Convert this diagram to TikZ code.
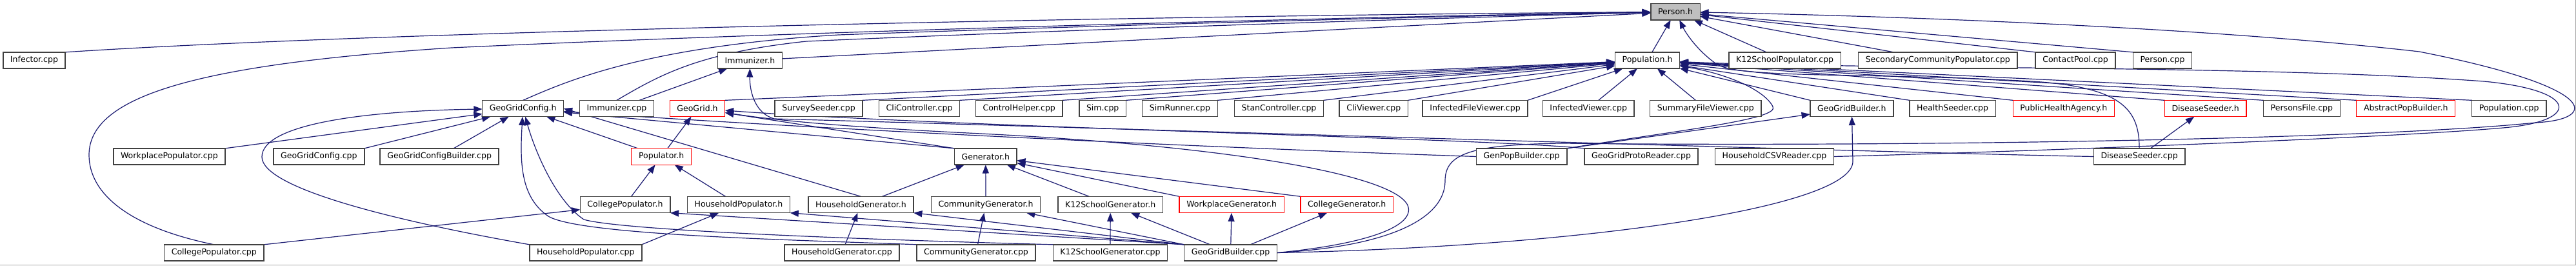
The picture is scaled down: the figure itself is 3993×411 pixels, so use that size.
\documentclass[tikz,border=0pt]{standalone}
\usepackage{fontspec}
\setmainfont{DejaVu Sans}
\usepackage{xcolor}
\usetikzlibrary{arrows.meta}
\definecolor{edgeblue}{HTML}{191970}
\definecolor{boxgray}{HTML}{404040}
\pgfdeclarelayer{edges}
\pgfsetlayers{edges,main}

\begin{document}
\begin{tikzpicture}[
    x=0.75pt, y=-0.75pt,
    file/.style={draw=boxgray, line width=1.1pt, rectangle, fill=white, minimum height=19pt, inner xsep=8.4pt, inner ysep=0pt, outer sep=0pt, font=\fontsize{9.4}{11}\selectfont},
    redfile/.style={file, draw=red, line width=0.9pt},
    focus/.style={file, fill=black!25},
    dep/.style={draw=edgeblue, line width=0.9pt, -{Triangle[length=10pt,width=7.5pt]}}
]
\useasboundingbox (0,0) rectangle (3993,411);
\draw[black!35, line width=0.75pt] (0,410.5) -- (3992,410.5) -- (3992,0);

\node[focus] (person) at (2597,18.3) {Person.h};

\node[file] (infector) at (53,93.5) {Infector.cpp};
\node[file] (immunizerh) at (1162.5,93.5) {Immunizer.h};
\node[file] (population) at (2553.5,93.5) {Population.h};
\node[file] (k12pop) at (2766.6,93.5) {K12SchoolPopulator.cpp};
\node[file] (seccompop) at (3003.8,93.5) {SecondaryCommunityPopulator.cpp};
\node[file] (contactpool) at (3217,93.5) {ContactPool.cpp};
\node[file] (personcpp) at (3352,93.5) {Person.cpp};

\node[file] (ggconfigh) at (810.7,168) {GeoGridConfig.h};
\node[file] (immunizercpp) at (955.9,168) {Immunizer.cpp};
\node[redfile] (geogridh) at (1081,168) {GeoGrid.h};
\node[file] (surveyseeder) at (1269,168) {SurveySeeder.cpp};
\node[file] (clicontroller) at (1425,168) {CliController.cpp};
\node[file] (controlhelper) at (1579.7,168) {ControlHelper.cpp};
\node[file] (simcpp) at (1709.2,168) {Sim.cpp};
\node[file] (simrunner) at (1829,168) {SimRunner.cpp};
\node[file] (stancontroller) at (1982.5,168) {StanController.cpp};
\node[file] (cliviewer) at (2129.3,168) {CliViewer.cpp};
\node[file] (infectedfileviewer) at (2286.5,168) {InfectedFileViewer.cpp};
\node[file] (infectedviewer) at (2462.2,168) {InfectedViewer.cpp};
\node[file] (summaryviewer) at (2643.8,168) {SummaryFileViewer.cpp};
\node[file] (ggbuilderh) at (2870.3,168) {GeoGridBuilder.h};
\node[file] (healthseeder) at (3026.6,168) {HealthSeeder.cpp};
\node[redfile] (publichealth) at (3198.8,168) {PublicHealthAgency.h};
\node[redfile] (diseaseseederh) at (3418.6,168) {DiseaseSeeder.h};
\node[file] (personsfile) at (3567.9,168) {PersonsFile.cpp};
\node[redfile] (abstractpop) at (3729.2,168) {AbstractPopBuilder.h};
\node[file] (populationcpp) at (3889.2,168) {Population.cpp};

\node[file] (workplacepop) at (262.4,242.5) {WorkplacePopulator.cpp};
\node[file] (ggconfigcpp) at (494.4,242.5) {GeoGridConfig.cpp};
\node[file] (ggconfigbuilder) at (681.2,242.5) {GeoGridConfigBuilder.cpp};
\node[redfile] (populatorh) at (1025.2,242.5) {Populator.h};
\node[file] (generatorh) at (1527.8,242.5) {Generator.h};
\node[file] (genpopbuilder) at (2358.6,242.5) {GenPopBuilder.cpp};
\node[file] (ggprotoreader) at (2544,242.5) {GeoGridProtoReader.cpp};
\node[file] (hhcsvreader) at (2750.5,242.5) {HouseholdCSVReader.cpp};
\node[file] (diseaseseedercpp) at (3316.1,242.5) {DiseaseSeeder.cpp};

\node[file] (collegepoph) at (969,317) {CollegePopulator.h};
\node[file] (hhpoph) at (1145,317) {HouseholdPopulator.h};
\node[file] (hhgenh) at (1334.5,317) {HouseholdGenerator.h};
\node[file] (commgenh) at (1528,317) {CommunityGenerator.h};
\node[file] (k12genh) at (1721.2,317) {K12SchoolGenerator.h};
\node[redfile] (workplacegenh) at (1909.2,317) {WorkplaceGenerator.h};
\node[redfile] (collegegenh) at (2087.8,317) {CollegeGenerator.h};

\node[file] (collegepopcpp) at (331.8,391.5) {CollegePopulator.cpp};
\node[file] (hhpopcpp) at (907.8,391.5) {HouseholdPopulator.cpp};
\node[file] (hhgencpp) at (1305,391.5) {HouseholdGenerator.cpp};
\node[file] (commgencpp) at (1513,391.5) {CommunityGenerator.cpp};
\node[file] (k12gencpp) at (1721,391.5) {K12SchoolGenerator.cpp};
\node[file] (ggbuildercpp) at (1907.5,391.5) {GeoGridBuilder.cpp};

\begin{pgfonlayer}{edges}
\draw[dep] (infector.north east) .. controls (600,48) and (1800,24) .. (person);
\draw[dep] (collegepopcpp.north) .. controls (200,352) and (138,300) .. (138,240) .. controls (138,150) and (300,100) .. (700,74) .. controls (1300,46) and (2200,24) .. (person);
\draw[dep] (ggconfigh.north) .. controls (880,125) and (1000,72) .. (1300,54) .. controls (1800,36) and (2300,24) .. (person);
\draw[dep] (immunizercpp.north) .. controls (1020,118) and (1080,82) .. (1250,64) .. controls (1700,44) and (2300,26) .. (person);
\draw[dep] (immunizerh) -- (person);
\draw[dep] (population) -- (person);
\draw[dep] (k12pop) -- (person);
\draw[dep] (seccompop) -- (person);
\draw[dep] (contactpool.north west) -- (person);
\draw[dep] (personcpp.north west) -- (person);
\draw[dep] (diseaseseedercpp.north) .. controls (3316,170) and (3290,135) .. (3150,126) .. controls (2900,112) and (2700,122) .. (2662,100) .. controls (2635,82) and (2615,55) .. (person);
\draw[dep] (ggbuildercpp.east) .. controls (2150,382) and (2240,340) .. (2240,280) .. controls (2240,238) and (2280,224) .. (2420,222) .. controls (3000,228) and (3700,214) .. (3930,190) .. controls (4030,185) and (4030,135) .. (3750,80) .. controls (3400,40) and (2900,24) .. (person);

\draw[dep] (geogridh.north east) -- (population);
\draw[dep] (surveyseeder.north east) -- (population);
\draw[dep] (clicontroller.north east) -- (population);
\draw[dep] (controlhelper.north east) -- (population);
\draw[dep] (simcpp.north east) -- (population);
\draw[dep] (simrunner.north east) -- (population);
\draw[dep] (stancontroller.north east) -- (population);
\draw[dep] (cliviewer.north east) -- (population);
\draw[dep] (infectedfileviewer.north east) -- (population);
\draw[dep] (infectedviewer) -- (population);
\draw[dep] (summaryviewer) -- (population);
\draw[dep] (ggbuilderh.north west) -- (population);
\draw[dep] (healthseeder.north west) -- (population);
\draw[dep] (publichealth.north west) -- (population);
\draw[dep] (diseaseseederh.north west) -- (population);
\draw[dep] (personsfile.north west) -- (population);
\draw[dep] (abstractpop.north west) -- (population);
\draw[dep] (populationcpp.north west) -- (population);
\draw[dep] (genpopbuilder.north east) .. controls (2600,202) and (2760,185) .. (2748,165) .. controls (2735,140) and (2680,115) .. (population);
\draw[dep] (hhcsvreader.east) .. controls (3100,236) and (3700,214) .. (3880,198) .. controls (4000,188) and (4000,140) .. (3850,126) .. controls (3500,100) and (2900,108) .. (population);

\draw[dep] (immunizercpp) -- (immunizerh);
\draw[dep] (diseaseseedercpp.west) .. controls (2900,236) and (1500,192) .. (1200,184) .. controls (1172,176) and (1162,145) .. (immunizerh);

\draw[dep] (workplacepop.north east) -- (ggconfigh);
\draw[dep] (ggconfigcpp.north east) -- (ggconfigh);
\draw[dep] (ggconfigbuilder) -- (ggconfigh);
\draw[dep] (hhpopcpp.north west) .. controls (600,340) and (406,290) .. (406,243) .. controls (406,195) and (550,172) .. (ggconfigh);
\draw[dep] (populatorh) -- (ggconfigh);
\draw[dep] (hhgenh.north) -- (ggconfigh.east);
\draw[dep] (generatorh.north west) -- (ggconfigh);
\draw[dep] (genpopbuilder.west) .. controls (1800,226) and (1200,196) .. (ggconfigh);
\draw[dep] (commgencpp.north west) .. controls (1250,372) and (900,365) .. (850,335) .. controls (806,305) and (806,250) .. (ggconfigh);
\draw[dep] (k12gencpp.north west) .. controls (1300,370) and (960,356) .. (905,340) .. controls (860,310) and (828,230) .. (ggconfigh);

\draw[dep] (populatorh) -- (geogridh);
\draw[dep] (generatorh.north west) -- (geogridh);
\draw[dep] (ggbuildercpp.east) .. controls (2120,378) and (2195,350) .. (2182,318) .. controls (2160,270) and (1900,225) .. (1500,206) .. controls (1300,196) and (1200,186) .. (geogridh);
\draw[dep] (ggprotoreader.north west) .. controls (2300,214) and (1500,198) .. (geogridh);

\draw[dep] (collegepoph) -- (populatorh);
\draw[dep] (hhpoph) -- (populatorh);
\draw[dep] (collegepopcpp.north east) -- (collegepoph);
\draw[dep] (hhpopcpp.north east) -- (hhpoph);
\draw[dep] (ggbuildercpp.north west) -- (collegepoph.south east);
\draw[dep] (ggbuildercpp.north west) -- (hhpoph.south east);

\draw[dep] (hhgenh) -- (generatorh);
\draw[dep] (commgenh) -- (generatorh);
\draw[dep] (k12genh) -- (generatorh);
\draw[dep] (workplacegenh.north west) -- (generatorh);
\draw[dep] (collegegenh.north west) -- (generatorh);
\draw[dep] (hhgencpp) -- (hhgenh);
\draw[dep] (commgencpp) -- (commgenh);
\draw[dep] (k12gencpp) -- (k12genh);
\draw[dep] (ggbuildercpp.north west) -- (hhgenh.south east);
\draw[dep] (ggbuildercpp.north west) -- (commgenh);
\draw[dep] (ggbuildercpp) -- (k12genh);
\draw[dep] (ggbuildercpp) -- (workplacegenh);
\draw[dep] (ggbuildercpp) -- (collegegenh);

\draw[dep] (genpopbuilder.north east) -- (ggbuilderh);
\draw[dep] (ggbuildercpp.east) .. controls (2450,382) and (2872,322) .. (2872,250) -- (ggbuilderh);

\draw[dep] (diseaseseedercpp) -- (diseaseseederh);
\end{pgfonlayer}
\end{tikzpicture}
\end{document}
